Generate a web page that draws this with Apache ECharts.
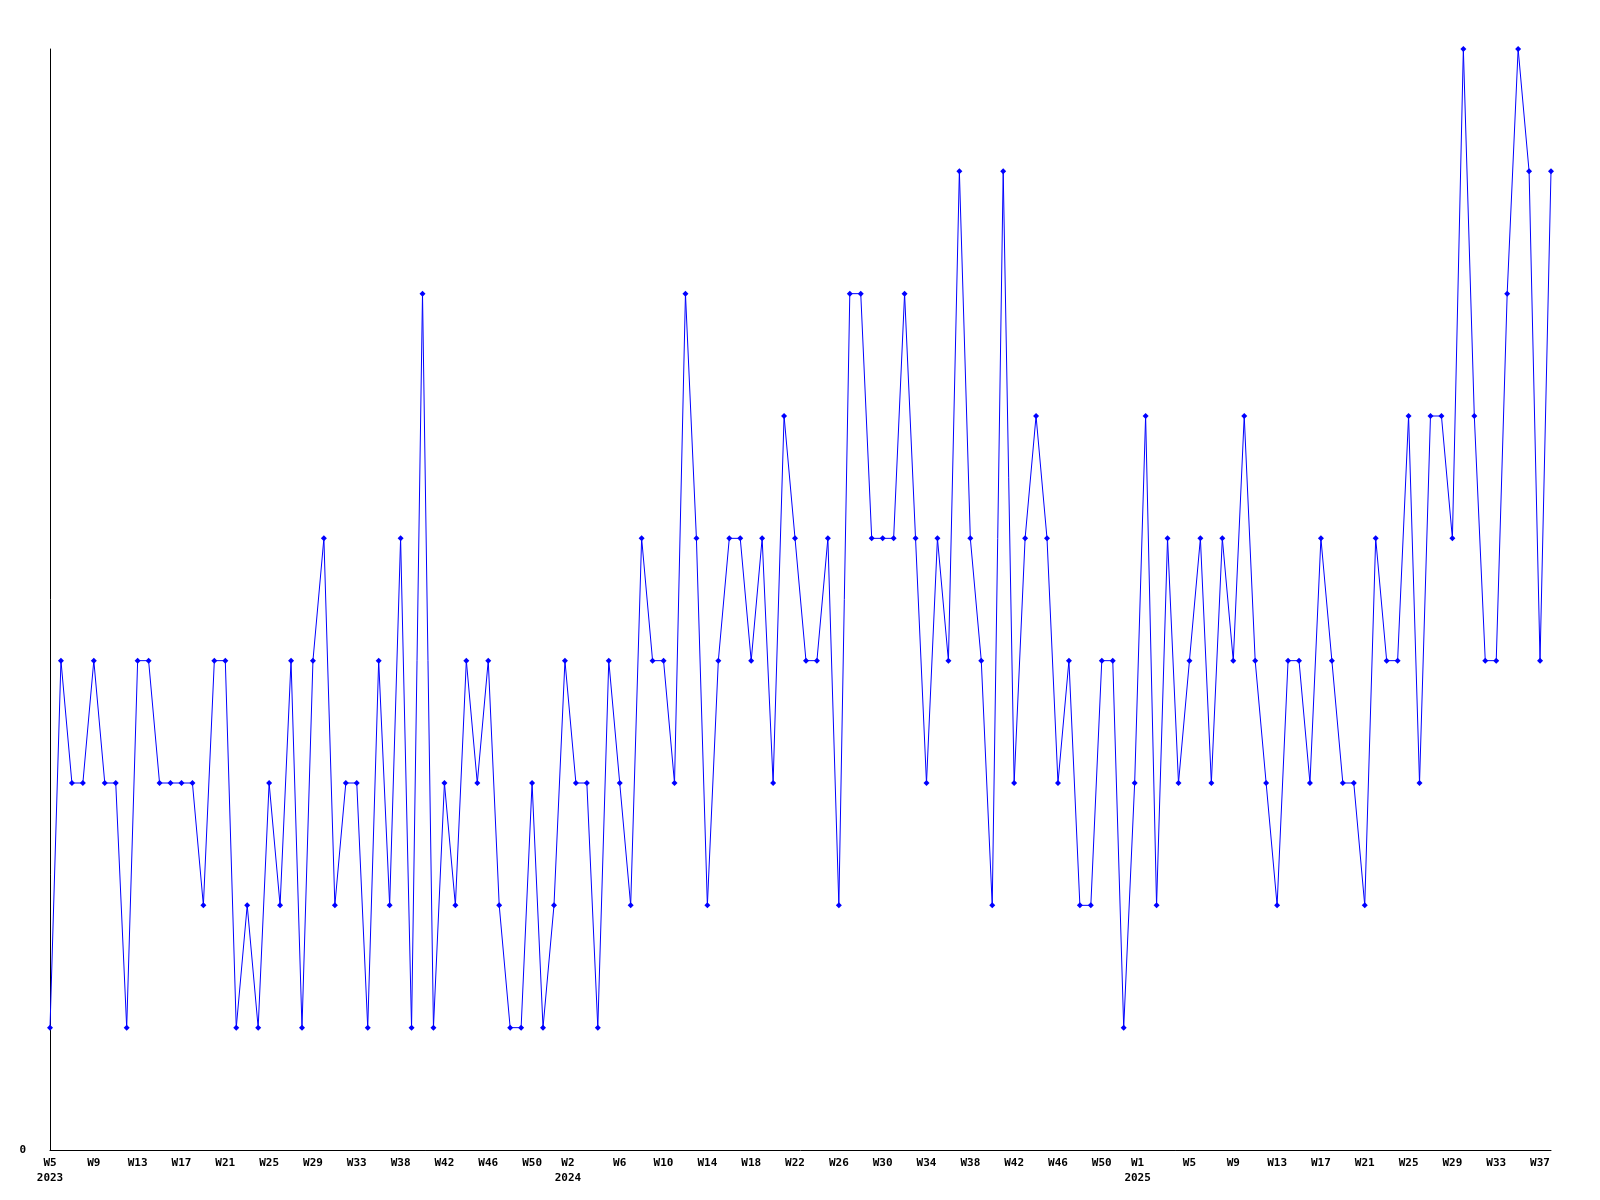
<!DOCTYPE html>
<html>
<head>
<meta charset="utf-8">
<title>Weekly count</title>
<script src="https://cdn.jsdelivr.net/npm/echarts@6/dist/echarts.min.js"></script>
<style>
  html, body { margin: 0; padding: 0; background: #fff; }
  #chart { width: 1600px; height: 1200px; }
</style>
</head>
<body>
<div id="chart"></div>
<script>
// week ranges [year, firstWeek, lastWeek] -> one category per week
const weekRanges = [
  [2023, 5, 35],
  [2023, 37, 52],
  [2024, 1, 53],
  [2025, 1, 38]
];

// values, one per week
const counts = [
  1, 4, 3, 3, 4, 3, 3, 1, 4, 4,
  3, 3, 3, 3, 2, 4, 4, 1, 2, 1,
  3, 2, 4, 1, 4, 5, 2, 3, 3, 1,
  4, 2, 5, 1, 7, 1, 3, 2, 4, 3,
  4, 2, 1, 1, 3, 1, 2, 4, 3, 3,
  1, 4, 3, 2, 5, 4, 4, 3, 7, 5,
  2, 4, 5, 5, 4, 5, 3, 6, 5, 4,
  4, 5, 2, 7, 7, 5, 5, 5, 7, 5,
  3, 5, 4, 8, 5, 4, 2, 8, 3, 5,
  6, 5, 3, 4, 2, 2, 4, 4, 1, 3,
  6, 2, 5, 3, 4, 5, 3, 5, 4, 6,
  4, 3, 2, 4, 4, 3, 5, 4, 3, 3,
  2, 5, 4, 4, 6, 3, 6, 6, 5, 9,
  6, 4, 4, 7, 9, 8, 4, 8
];

const yTicks = [0];

let categories = [];
weekRanges.forEach(function (r) {
  for (let w = r[1]; w <= r[2]; w++) {
    categories.push(r[0] + ' W' + w);
  }
});

let myChart = echarts.init(document.getElementById('chart'), null, { renderer: 'canvas' });

let labelFont = {
  color: '#000',
  fontFamily: 'DejaVu Sans Mono',
  fontWeight: 'bold',
  fontSize: 11,
  lineHeight: 15
};

let option = {
  animation: false,
  backgroundColor: '#fff',
  grid: {
    left: 50,
    right: 49,
    top: 49,
    bottom: 50,
    containLabel: false
  },
  xAxis: {
    type: 'category',
    boundaryGap: false,
    data: categories,
    axisLine: { show: true, lineStyle: { color: '#000', width: 1 } },
    axisTick: { show: false },
    splitLine: { show: false },
    axisLabel: Object.assign({
      interval: 3,
      margin: 6,
      rich: {
        yr: Object.assign({ padding: [0, 16, 0, 0] }, labelFont)
      },
      formatter: function (value, index) {
        let parts = value.split(' ');
        let prev = index >= 4 ? categories[index - 4].split(' ')[0] : null;
        if (index === 0) {
          return parts[1] + '\n' + parts[0];
        }
        if (prev !== parts[0]) {
          // year change: shifted a bit left like the original
          return '{yr|' + parts[1] + '}\n{yr|' + parts[0] + '}';
        }
        return parts[1];
      }
    }, labelFont)
  },
  yAxis: {
    type: 'value',
    min: 0,
    max: 9,
    interval: 9,
    axisLine: { show: true, lineStyle: { color: '#000', width: 1 } },
    axisTick: { show: false },
    splitLine: { show: false },
    axisLabel: Object.assign({
      margin: 24,
      formatter: function (v) {
        return yTicks.indexOf(v) >= 0 ? String(v) : '';
      }
    }, labelFont)
  },
  series: [
    {
      type: 'line',
      data: counts,
      symbol: 'diamond',
      symbolSize: 6,
      showSymbol: true,
      lineStyle: { color: '#0000ff', width: 1 },
      itemStyle: { color: '#0000ff' }
    }
  ]
};

myChart.setOption(option);
</script>
</body>
</html>
